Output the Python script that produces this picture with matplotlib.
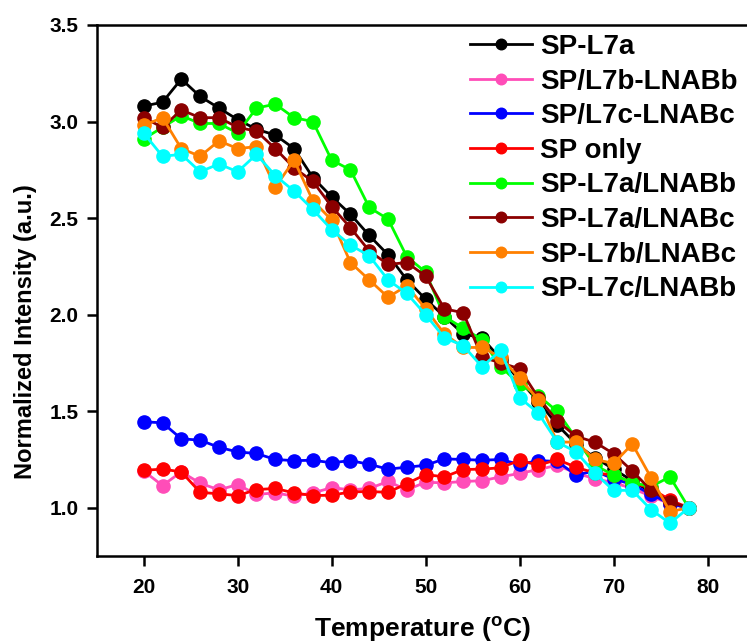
import matplotlib
matplotlib.use("Agg")
import matplotlib.pyplot as plt

plt.rcParams['font.family'] = ['Liberation Sans', 'DejaVu Sans']
plt.rcParams['font.weight'] = 'bold'
plt.rcParams['mathtext.fontset'] = 'custom'
plt.rcParams['mathtext.rm'] = 'Liberation Sans:bold'
plt.rcParams['mathtext.bf'] = 'Liberation Sans:bold'

# ── data ──────────────────────────────────────────────────────────────────────
temps = [20, 22, 24, 26, 28, 30, 32, 34, 36, 38, 40, 42, 44, 46, 48,
         50, 52, 54, 56, 58, 60, 62, 64, 66, 68, 70, 72, 74, 76, 78]

sp_l7a = [3.08, 3.10, 3.22, 3.13, 3.07, 3.01, 2.96, 2.93, 2.86, 2.71,
          2.61, 2.52, 2.41, 2.31, 2.18, 2.08, 1.99, 1.90, 1.88, 1.77,
          1.66, 1.55, 1.43, 1.33, 1.26, 1.20, 1.14, 1.08, 1.02, 1.00]
sp_l7b_lnabb = [1.19, 1.115, 1.186, 1.127, 1.093, 1.12, 1.069, 1.077, 1.06, 1.077,
                1.104, 1.093, 1.10, 1.136, 1.093, 1.132, 1.129, 1.136, 1.14, 1.16,
                1.178, 1.198, 1.22, 1.18, 1.15, 1.13, 1.10, 1.06, 1.02, 1.00]
sp_l7c_lnabc = [1.445, 1.44, 1.357, 1.35, 1.313, 1.289, 1.281, 1.25, 1.244, 1.246,
                1.233, 1.244, 1.225, 1.20, 1.21, 1.22, 1.253, 1.25, 1.246, 1.25,
                1.224, 1.244, 1.24, 1.17, 1.19, 1.15, 1.12, 1.07, 1.02, 1.00]
sp_only = [1.194, 1.20, 1.186, 1.08, 1.072, 1.063, 1.094, 1.10, 1.077, 1.063,
           1.065, 1.082, 1.084, 1.08, 1.125, 1.172, 1.16, 1.198, 1.20, 1.207,
           1.246, 1.22, 1.25, 1.21, 1.18, 1.17, 1.13, 1.10, 1.04, 1.00]
sp_l7a_lnabb = [2.91, 2.97, 3.03, 2.99, 2.99, 2.94, 3.07, 3.09, 3.02, 3.00,
                2.80, 2.75, 2.555, 2.495, 2.30, 2.22, 1.99, 1.93, 1.87, 1.73,
                1.64, 1.58, 1.50, 1.36, 1.22, 1.17, 1.13, 1.11, 1.16, 1.00]
sp_l7a_lnabc = [3.02, 2.97, 3.06, 3.02, 3.02, 2.97, 2.95, 2.86, 2.76, 2.69,
                2.56, 2.45, 2.33, 2.26, 2.27, 2.20, 2.03, 2.01, 1.78, 1.75,
                1.72, 1.57, 1.45, 1.37, 1.34, 1.28, 1.19, 1.09, 1.03, 1.00]
sp_l7b_lnabc = [2.98, 3.02, 2.86, 2.82, 2.90, 2.86, 2.87, 2.66, 2.80, 2.59,
                2.49, 2.27, 2.18, 2.09, 2.15, 2.03, 1.90, 1.83, 1.83, 1.78,
                1.67, 1.56, 1.34, 1.34, 1.25, 1.23, 1.33, 1.155, 0.98, 1.00]
sp_l7c_lnabb = [2.94, 2.82, 2.83, 2.74, 2.78, 2.74, 2.83, 2.72, 2.64, 2.545,
                2.44, 2.36, 2.305, 2.18, 2.11, 2.00, 1.88, 1.84, 1.73, 1.815,
                1.57, 1.49, 1.34, 1.29, 1.18, 1.09, 1.09, 0.99, 0.92, 1.00]

series = [
    ('SP-L7a', sp_l7a, '#000000'),
    ('SP/L7b-LNABb', sp_l7b_lnabb, '#FF4DB8'),
    ('SP/L7c-LNABc', sp_l7c_lnabc, '#0000FF'),
    ('SP only', sp_only, '#FF0000'),
    ('SP-L7a/LNABb', sp_l7a_lnabb, '#00FF00'),
    ('SP-L7a/LNABc', sp_l7a_lnabc, '#8B0000'),
    ('SP-L7b/LNABc', sp_l7b_lnabc, '#FF8000'),
    ('SP-L7c/LNABb', sp_l7c_lnabb, '#00FFFF'),
]

# ── plot ──────────────────────────────────────────────────────────────────────
fig = plt.figure(figsize=(7.47, 6.44), dpi=100)
ax = fig.add_axes([0.1295, 0.1366, 0.8705, 0.8246])

for label, vals, color in series:
    ax.plot(temps, vals, color=color, marker='o', markersize=9.5,
            linewidth=2, label=label)

ax.set_xlim(15, 84.2)
ax.set_ylim(0.75, 3.5)
ax.set_xticks([20, 30, 40, 50, 60, 70, 80])
ax.set_yticks([1.0, 1.5, 2.0, 2.5, 3.0, 3.5])
ax.set_yticklabels(['1.0', '1.5', '2.0', '2.5', '3.0', '3.5'])

for side in ['left', 'bottom', 'top']:
    ax.spines[side].set_linewidth(1.8)
ax.spines['right'].set_visible(False)
ax.tick_params(direction='out', length=7, width=1.8, labelsize=15)
ax.tick_params(axis='x', pad=9)
ax.tick_params(axis='y', pad=6)

ax.set_xlabel(r'Temperature ($^{\mathbf{o}}$C)', fontsize=19, fontweight='bold', labelpad=12)
ax.set_ylabel('Normalized Intensity (a.u.)', fontsize=17, fontweight='bold')
ax.yaxis.set_label_coords(-0.092, 0.422)

leg = ax.legend(loc='upper left', bbox_to_anchor=(470 / 747, 1 - 34 / 644),
                bbox_transform=fig.transFigure, frameon=False, fontsize=20,
                borderpad=0, borderaxespad=0, handlelength=2.23,
                handletextpad=0.29, labelspacing=0.31, markerscale=0.8)

plt.savefig('out.png', dpi=100)
